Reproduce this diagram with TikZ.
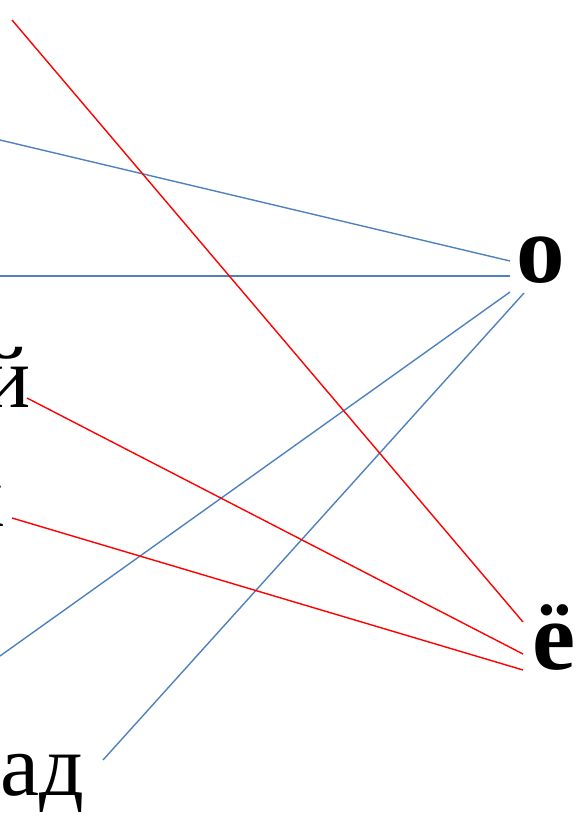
\documentclass[tikz,border=0pt]{standalone}
\usepackage{fontspec}
\setmainfont{Liberation Serif}
\definecolor{lineblue}{HTML}{4F81BD}
\definecolor{linered}{HTML}{FF0000}
\begin{document}
\begin{tikzpicture}[x=1pt,y=-1pt,
  word/.style={inner sep=0pt,font=\fontsize{88}{100}\selectfont},
  bigletter/.style={inner sep=0pt,font=\fontsize{97}{110}\selectfont\bfseries},
  blueline/.style={draw=lineblue,line width=1.4pt},
  redline/.style={draw=linered,line width=1.4pt}]
\useasboundingbox (0,0) rectangle (578,822);
% letters
\node[word,anchor=base east] (yi) at (31,407) {й};
\node[word,anchor=base east] (ka) at (3,526) {к};
\node[word,anchor=base west] (ad) at (0,795) {ад};
\node[bigletter,anchor=base west] (o) at (516,282) {о};
\node[bigletter,anchor=base west] (yo) at (532,669) {ё};
% connector ends
\coordinate (b1s) at (0,140);
\coordinate (b2s) at (0,276);
\coordinate (b3s) at (0,656);
\coordinate (b4s) at (103,760);
\coordinate (b1e) at (510,261);
\coordinate (b2e) at (510,276);
\coordinate (b3e) at (510,292);
\coordinate (b4e) at (524,293);
\coordinate (r1s) at (12,20);
\coordinate (r2s) at (27,398);
\coordinate (r3s) at (12,518);
\coordinate (r1e) at (523,622);
\coordinate (r2e) at (523,654);
\coordinate (r3e) at (523,670);
% blue connectors
\draw[blueline] (b1s) -- (b1e);
\draw[blueline] (b2s) -- (b2e);
\draw[blueline] (b3s) -- (b3e);
\draw[blueline] (b4s) -- (b4e);
% red connectors
\draw[redline] (r1s) -- (r1e);
\draw[redline] (r2s) -- (r2e);
\draw[redline] (r3s) -- (r3e);
\end{tikzpicture}
\end{document}
